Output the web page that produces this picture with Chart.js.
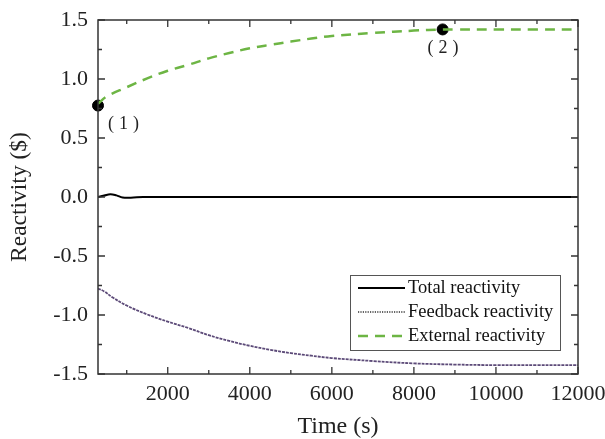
<!DOCTYPE html>
<html lang="en">
<head>
    <meta charset="UTF-8">
    <title>Reactivity</title>
    <script src="https://cdn.jsdelivr.net/npm/chart.js"></script>
    <style>
        body {
            margin: 0;
            background-color: #ffffff;
        }
    </style>
</head>
<body>
<canvas id="grafico" width="605" height="439"></canvas>

<script>
    // dados
    const tempoTotal = [300, 450, 600, 750, 900, 1100, 1400, 2000, 4000, 6000, 8000, 10000, 12000];
    const reatTotal = [0.0, 0.012, 0.024, 0.014, -0.004, -0.006, 0.0, 0.0, 0.0, 0.0, 0.0, 0.0, 0.0];

    const tempoFeedback = [300, 450, 650, 1000, 1500, 2000, 2500, 3000, 3500, 4000, 4500, 5000, 5500, 6000, 7000, 8000, 9000, 10000, 11000, 12000];
    const reatFeedback = [-0.775, -0.80, -0.85, -0.92, -0.995, -1.056, -1.11, -1.171, -1.22, -1.261, -1.295, -1.323, -1.345, -1.365, -1.39, -1.41, -1.42, -1.425, -1.425, -1.425];

    const tempoExterna = [300, 500, 1000, 1500, 2000, 2500, 3000, 3500, 4000, 4500, 5000, 5500, 6000, 7000, 8000, 8700, 9000, 10000, 11000, 12000];
    const reatExterna = [0.79, 0.85, 0.93, 1.005, 1.07, 1.12, 1.175, 1.22, 1.26, 1.29, 1.317, 1.343, 1.365, 1.39, 1.41, 1.42, 1.42, 1.42, 1.42, 1.42];

    const pontosTempo = [300, 8700];
    const pontosReat = [0.775, 1.42];
    const pontosRotulos = ['(1)', '(2)'];

    const ticksX = [2000, 4000, 6000, 8000, 10000, 12000];
    const ticksXMenor = [1000, 3000, 5000, 7000, 9000, 11000];
    const ticksY = [-1.5, -1.0, -0.5, 0.0, 0.5, 1.0, 1.5];
    const ticksYMenor = [-1.25, -0.75, -0.25, 0.25, 0.75, 1.25];

    const legendaItens = ['Total reactivity', 'Feedback reactivity', 'External reactivity'];

    const serif = "'Liberation Serif', 'Times New Roman', serif";
    const corVerde = '#6db544';
    const corFeedback = '#5c4a78';

    function pares(xs, ys) {
        return xs.map((x, i) => ({ x: x, y: ys[i] }));
    }

    const moldura = {
        id: 'moldura',
        afterDatasetsDraw(chart) {
            const ctx = chart.ctx;
            const a = chart.chartArea;
            const sx = chart.scales.x, sy = chart.scales.y;
            ctx.save();
            ctx.strokeStyle = '#333';
            ctx.lineWidth = 1.5;
            ctx.strokeRect(a.left, a.top, a.right - a.left, a.bottom - a.top);
            ctx.lineWidth = 1.3;
            ctx.beginPath();
            function tx(v, len) {
                const p = sx.getPixelForValue(v);
                ctx.moveTo(p, a.bottom); ctx.lineTo(p, a.bottom - len);
                ctx.moveTo(p, a.top); ctx.lineTo(p, a.top + len);
            }
            function ty(v, len) {
                const p = sy.getPixelForValue(v);
                ctx.moveTo(a.left, p); ctx.lineTo(a.left + len, p);
                ctx.moveTo(a.right, p); ctx.lineTo(a.right - len, p);
            }
            ticksX.forEach(v => tx(v, 7));
            ticksXMenor.forEach(v => tx(v, 4));
            ticksY.forEach(v => ty(v, 7));
            ticksYMenor.forEach(v => ty(v, 4));
            ctx.stroke();

            // rotulos dos pontos
            ctx.fillStyle = '#222';
            ctx.font = '18px ' + serif;
            ctx.letterSpacing = '5px';
            ctx.textAlign = 'left';
            ctx.textBaseline = 'middle';
            const desloc = [[10, 19], [-15, 19]];
            pontosTempo.forEach((t, i) => {
                const px = sx.getPixelForValue(t);
                const py = sy.getPixelForValue(pontosReat[i]);
                ctx.fillText(pontosRotulos[i], px + desloc[i][0], py + desloc[i][1]);
            });
            ctx.letterSpacing = '0px';

            // legenda
            const lx = 350, ly = 275, lw = 210, lh = 75;
            ctx.fillStyle = '#ffffff';
            ctx.fillRect(lx, ly, lw, lh);
            ctx.strokeStyle = '#555';
            ctx.lineWidth = 1;
            ctx.strokeRect(lx + 0.5, ly + 0.5, lw, lh);
            const estilos = [
                { cor: '#000', dash: [], w: 2 },
                { cor: '#333', dash: [1.2, 1.2], w: 1.3 },
                { cor: corVerde, dash: [10, 7], w: 2.5 }
            ];
            ctx.font = '18.5px ' + serif;
            ctx.textAlign = 'left';
            legendaItens.forEach((txt, i) => {
                const y = ly + 13 + i * 24;
                ctx.beginPath();
                ctx.strokeStyle = estilos[i].cor;
                ctx.lineWidth = estilos[i].w;
                ctx.setLineDash(estilos[i].dash);
                ctx.moveTo(lx + 8, y);
                ctx.lineTo(lx + 55, y);
                ctx.stroke();
                ctx.setLineDash([]);
                ctx.fillStyle = '#111';
                ctx.fillText(txt, lx + 58, y);
            });
            ctx.restore();
        }
    };

    const ctx = document.getElementById('grafico').getContext('2d');
    new Chart(ctx, {
        type: 'line',
        data: {
            datasets: [
                {
                    label: legendaItens[0],
                    data: pares(tempoTotal, reatTotal),
                    borderColor: '#000',
                    borderWidth: 2,
                    pointRadius: 0,
                    tension: 0.4
                },
                {
                    label: legendaItens[1],
                    data: pares(tempoFeedback, reatFeedback),
                    borderColor: corFeedback,
                    borderWidth: 1.8,
                    borderDash: [3, 1],
                    pointRadius: 0,
                    tension: 0.4
                },
                {
                    label: legendaItens[2],
                    data: pares(tempoExterna, reatExterna),
                    borderColor: corVerde,
                    borderWidth: 2.5,
                    borderDash: [10, 7],
                    pointRadius: 0,
                    tension: 0.4
                },
                {
                    label: 'pontos',
                    data: pares(pontosTempo, pontosReat),
                    showLine: false,
                    pointRadius: 5.5,
                    pointBackgroundColor: '#000',
                    pointBorderColor: '#000',
                    clip: false
                }
            ]
        },
        options: {
            responsive: false,
            animation: false,
            layout: {
                padding: { left: 0, right: 27, top: 20, bottom: 0 }
            },
            plugins: {
                legend: { display: false },
                tooltip: { enabled: false }
            },
            scales: {
                x: {
                    type: 'linear',
                    min: 300,
                    max: 12000,
                    afterBuildTicks: s => { s.ticks = ticksX.map(v => ({ value: v })); },
                    afterFit: s => { s.height = 65; s.paddingLeft = 0; s.paddingRight = 0; },
                    grid: { display: false, drawTicks: false },
                    border: { display: false },
                    ticks: {
                        padding: 7,
                        color: '#222',
                        font: { family: serif, size: 22 },
                        maxRotation: 0,
                        callback: v => String(v)
                    },
                    title: {
                        display: true,
                        text: 'Time (s)',
                        color: '#222',
                        font: { family: serif, size: 24, lineHeight: 1 },
                        padding: { top: 0, bottom: 0 }
                    }
                },
                y: {
                    min: -1.5,
                    max: 1.5,
                    afterBuildTicks: s => { s.ticks = ticksY.map(v => ({ value: v })); },
                    afterFit: s => { s.width = 98; s.paddingTop = 0; s.paddingBottom = 0; },
                    grid: { display: false, drawTicks: false },
                    border: { display: false },
                    ticks: {
                        padding: 10,
                        color: '#222',
                        font: { family: serif, size: 22 },
                        callback: v => v.toFixed(1)
                    },
                    title: {
                        display: true,
                        text: 'Reactivity ($)',
                        color: '#222',
                        font: { family: serif, size: 23.5, lineHeight: 1 },
                        padding: { top: 8, bottom: 0 }
                    }
                }
            }
        },
        plugins: [moldura]
    });
</script>
</body>
</html>
